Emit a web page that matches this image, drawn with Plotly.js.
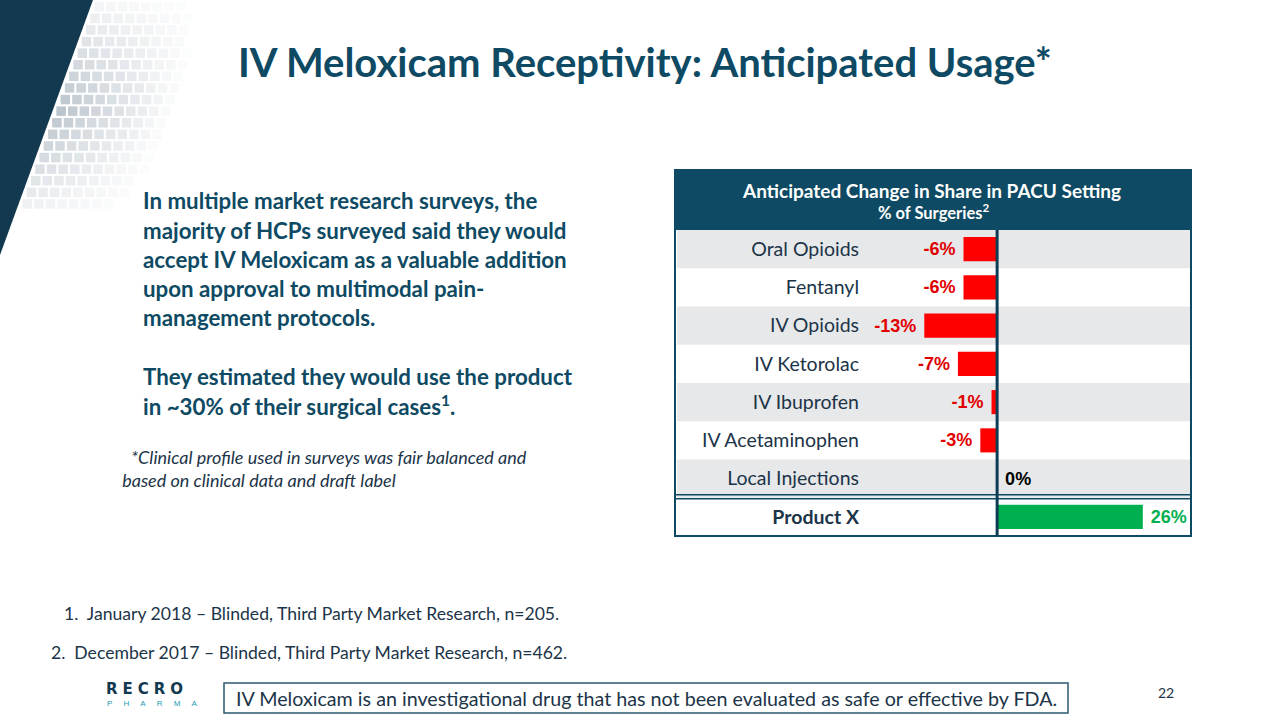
<!DOCTYPE html>
<html>
<head>
<meta charset="utf-8">
<script src="https://cdn.plot.ly/plotly-3.0.1.min.js"></script>
<style>html,body{margin:0;padding:0;background:#fff;}#chart{width:1280px;height:720px;}</style>
</head>
<body>
<div id="chart"></div>
<script>
// ---- data ----
const categories = ["Oral Opioids","Fentanyl","IV Opioids","IV Ketorolac","IV Ibuprofen","IV Acetaminophen","Local Injections","Product X"];
const shareChange = [-6,-6,-13,-7,-1,-3,0,26];
const highlighted = ["Product X"];
const chartTitle = "IV Meloxicam Receptivity: Anticipated Usage*";
const tableHeader = "Anticipated Change in Share in PACU Setting";
const tableSubheader = "% of Surgeries<sup>2</sup>";
const bodyLines = [
  "In multiple market research surveys, the",
  "majority of HCPs surveyed said they would",
  "accept IV Meloxicam as a valuable addition",
  "upon approval to multimodal pain-",
  "management protocols.",
  "",
  "They estimated they would use the product",
  "in ~30% of their surgical cases<sup>1</sup>."
];
const noteLines = ["*Clinical profile used in surveys was fair balanced and", " based on clinical data and draft label"];
const footnotes = ["1.  January 2018 – Blinded, Third Party Market Research, n=205.", "2.  December 2017 – Blinded, Third Party Market Research, n=462."];
const disclaimer = "IV Meloxicam is an investigational drug that has not been evaluated as safe or effective by FDA.";
const pageNumber = "22";
const logoName = "RECRO";
const logoSub = "PHARMA";

// ---- layout helpers (pixel -> paper) ----
const PL = 866, PR = 1191, PT = 230, PB = 536;
const PW = PR - PL, PH = PB - PT;
const px = X => (X - PL) / PW;
const py = Y => (PB - Y) / PH;

const DARK = "#0e4a63";
const TEXT = "#1c3448";
const RED = "#ff0000", GREEN = "#00b050";
const NB = "\u00a0";

const barColors = shareChange.map(v => v < 0 ? RED : GREEN);
const textColors = shareChange.map(v => v < 0 ? "#e00000" : (v > 0 ? GREEN : "#000000"));
const barText = shareChange.map(v => v < 0 ? (v + "%" + NB) : (NB + v + "%"));
const tickText = categories.map(c => highlighted.includes(c) ? "<b>" + c + "</b>" : c);

const shapes = [];
const annotations = [];

// decorative top-left panel
shapes.push({type:"path", xref:"paper", yref:"paper", path:`M ${px(0)} ${py(0)} L ${px(93)} ${py(0)} L ${px(0)} ${py(255)} Z`, fillcolor:"#12394f", line:{width:0}, layer:"below"});
// squares pattern
for (let r = 0; r < 18; r++) {
  const y0 = 2 + r * 11.6;
  const edge = 93 * (1 - (y0 + 5) / 255);
  const yc = y0 + 5;
  const vf = Math.max(0, 1 - Math.abs(yc - 110) / 125);
  for (let c = 0; c < 12; c++) {
    const x0 = edge + 4 + c * 11.6;
    const op = 0.6 * vf * Math.max(0, 1 - c / 10);
    if (op < 0.03) continue;
    shapes.push({type:"rect", xref:"paper", yref:"paper", x0:px(x0), x1:px(x0+9.5), y0:py(y0), y1:py(y0+9.5), fillcolor:"#8d9dab", opacity:op, line:{width:0}, layer:"below"});
  }
}

// table header
shapes.push({type:"rect", xref:"paper", yref:"paper", x0:px(675), x1:px(1191), y0:py(170), y1:py(230), fillcolor:DARK, line:{width:0}, layer:"below"});
// row backgrounds
categories.forEach((c, i) => {
  if (i % 2 === 0 && !highlighted.includes(c)) {
    shapes.push({type:"rect", xref:"paper", yref:"paper", x0:px(677), x1:px(1190), y0:1 - i / categories.length, y1:1 - (i + 1) / categories.length, fillcolor:"#e7e8ea", line:{width:0}, layer:"below"});
  }
});
// outer border
shapes.push({type:"rect", xref:"paper", yref:"paper", x0:px(675), x1:px(1191), y0:py(170), y1:py(536), line:{color:DARK, width:2}, layer:"above"});
// double separator
const sepY = 1 - (categories.length - 1) / categories.length;
shapes.push({type:"line", xref:"paper", yref:"paper", x0:px(675), x1:px(1191), y0:sepY + 3/PH, y1:sepY + 3/PH, line:{color:DARK, width:1.5}});
shapes.push({type:"line", xref:"paper", yref:"paper", x0:px(675), x1:px(1191), y0:sepY - 1/PH, y1:sepY - 1/PH, line:{color:DARK, width:1.5}});
// zero line
shapes.push({type:"line", xref:"x", yref:"paper", x0:0, x1:0, y0:0, y1:1, line:{color:"#0d3d55", width:3}});
// disclaimer box
shapes.push({type:"rect", xref:"paper", yref:"paper", x0:px(224), x1:px(1068), y0:py(683), y1:py(713), line:{color:"#2a5870", width:1.5}, fillcolor:"rgba(0,0,0,0)"});

// title
annotations.push({xref:"paper", yref:"paper", x:px(645), y:py(62), text:"<b>" + chartTitle + "</b>", showarrow:false, xanchor:"center", yanchor:"middle", font:{family:"Lato", size:40, color:DARK}});
// header text
annotations.push({xref:"paper", yref:"paper", x:px(931), y:py(190), text:"<b>" + tableHeader + "</b>", showarrow:false, xanchor:"center", yanchor:"middle", font:{family:"Lato", size:19, color:"#ffffff"}});
annotations.push({xref:"paper", yref:"paper", x:px(933), y:py(212), text:"<b>" + tableSubheader + "</b>", showarrow:false, xanchor:"center", yanchor:"middle", font:{family:"Lato", size:16.5, color:"#ffffff"}});
// body lines
bodyLines.forEach((t, i) => {
  if (!t) return;
  annotations.push({xref:"paper", yref:"paper", x:px(141), y:py(201 + i * 29.2), text:"<b>" + t + "</b>", showarrow:false, xanchor:"left", yanchor:"middle", font:{family:"Lato", size:22.3, color:DARK}});
});
noteLines.forEach((t, i) => {
  annotations.push({xref:"paper", yref:"paper", x:px(i === 0 ? 129 : 116), y:py(457 + i * 23), text:"<i>" + t + "</i>", showarrow:false, xanchor:"left", yanchor:"middle", font:{family:"Lato", size:18, color:TEXT}});
});
footnotes.forEach((t, i) => {
  annotations.push({xref:"paper", yref:"paper", x:px(i === 0 ? 62 : 49), y:py(613 + i * 39), text:t, showarrow:false, xanchor:"left", yanchor:"middle", font:{family:"Lato", size:17.6, color:TEXT}});
});
annotations.push({xref:"paper", yref:"paper", x:px(646), y:py(698), text:disclaimer, showarrow:false, xanchor:"center", yanchor:"middle", font:{family:"Lato", size:19.7, color:TEXT}});
annotations.push({xref:"paper", yref:"paper", x:px(1166), y:py(692), text:pageNumber, showarrow:false, xanchor:"center", yanchor:"middle", font:{family:"Lato", size:14, color:TEXT}});
// logo
annotations.push({xref:"paper", yref:"paper", x:px(104), y:py(689), text:"<b>" + logoName.split("").join("\u2004") + "</b>", showarrow:false, xanchor:"left", yanchor:"middle", font:{family:"DejaVu Sans", size:15, color:"#12394f"}});
annotations.push({xref:"paper", yref:"paper", x:px(105), y:py(703), text:logoSub.split("").join(NB.repeat(5)), showarrow:false, xanchor:"left", yanchor:"middle", font:{family:"Liberation Sans", size:8, color:"#1b9cb3"}});

const trace = {
  type:"bar", orientation:"h",
  y:categories, x:shareChange,
  width:0.63,
  marker:{color:barColors, line:{width:0}},
  text:barText,
  texttemplate:"<b>%{text}</b>",
  textposition:"outside",
  constraintext:"none",
  cliponaxis:false,
  textfont:{family:"Liberation Sans", size:18, color:textColors},
  hoverinfo:"skip"
};

const layout = {
  width:1280, height:720,
  margin:{l:PL, r:1280-PR, t:PT, b:720-PB, pad:0},
  paper_bgcolor:"#ffffff", plot_bgcolor:"rgba(0,0,0,0)",
  showlegend:false,
  xaxis:{range:[-23.4, 34.6], visible:false, showgrid:false, zeroline:false, fixedrange:true},
  yaxis:{type:"category", categoryorder:"array", categoryarray:categories, autorange:"reversed",
         tickvals:categories, ticktext:tickText, ticks:"", showgrid:false, zeroline:false, showline:false,
         ticklabelstandoff:6, tickfont:{family:"Lato", size:19.5, color:TEXT}, fixedrange:true},
  bargap:0.37,
  shapes:shapes,
  annotations:annotations
};

Plotly.newPlot("chart", [trace], layout, {displayModeBar:false, staticPlot:true});
</script>
</body>
</html>
